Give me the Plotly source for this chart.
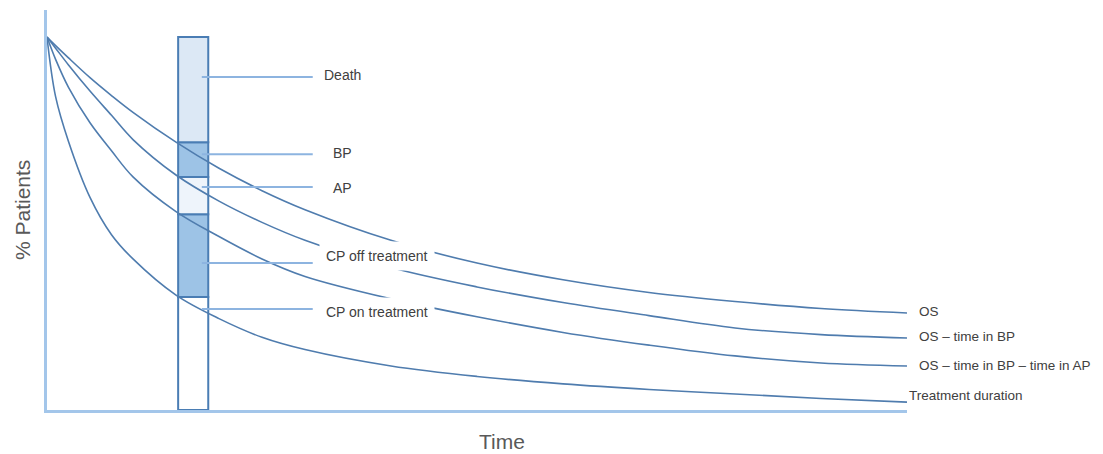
import plotly.graph_objects as go

# ---- data ----
time_points = [0, 1, 2.5, 5, 7.5, 10, 15, 20, 25, 30, 40, 50, 60, 70, 80, 90, 100]
os_curve = [100, 97.7, 94.4, 89.1, 84.3, 79.8, 71.8, 64.8, 58.8, 53.7, 45.5, 39.4, 34.9, 31.5, 29.1, 27.2, 26.0]
os_minus_bp = [100, 97, 92.5, 85.5, 79, 72.5, 63, 56, 50.3, 45.5, 38.2, 33.0, 28.8, 25.3, 22.0, 20.2, 19.3]
os_minus_bp_ap = [100, 94, 86.5, 77, 69.5, 62.5, 53.2, 46.5, 40.5, 35.8, 29.8, 25.0, 20.8, 17.4, 14.5, 12.6, 11.8]
treatment_duration = [100, 84, 72, 57, 47, 40.5, 30.8, 24.5, 19.5, 16.2, 11.8, 9.0, 7.0, 5.5, 4.3, 3.1, 2.1]

curve_names = ["OS", "OS – time in BP", "OS – time in BP – time in AP", "Treatment duration"]
curve_label_y = [26.3, 19.8, 11.8, 3.8]

bar_time = 17.0
segment_names = ["CP on treatment", "CP off treatment", "AP", "BP", "Death"]
segment_bottoms = [0, 30.3, 52.5, 62.5, 71.8]
segment_tops = [30.3, 52.5, 62.5, 71.8, 100]
segment_colors = ["#ffffff", "#9dc3e6", "#eef4fb", "#9dc3e6", "#dce8f5"]

callout_line_y = [27.1, 39.4, 59.8, 68.6, 89.3]
callout_label_y = [26.3, 41.2, 59.5, 68.9, 89.8]

fig = go.Figure()

# stacked time bar
for name, b, t, c in zip(segment_names, segment_bottoms, segment_tops, segment_colors):
    fig.add_trace(go.Bar(
        x=[bar_time], y=[t - b], base=[b], width=3.5,
        marker=dict(color=c, line=dict(color="#4a7db4", width=2)),
        showlegend=False, hoverinfo="skip"))

curve_color = "#4f7cae"
for name, vals in zip(curve_names, [os_curve, os_minus_bp, os_minus_bp_ap, treatment_duration]):
    fig.add_trace(go.Scatter(
        x=time_points, y=vals, mode="lines", name=name,
        line=dict(color=curve_color, width=1.6, shape="spline", smoothing=1.0),
        showlegend=False, hoverinfo="skip"))

# callout leader lines
for ly in callout_line_y:
    fig.add_trace(go.Scatter(
        x=[18.0, 30.9], y=[ly, ly], mode="lines",
        line=dict(color="#8db4e0", width=2),
        showlegend=False, hoverinfo="skip"))

label_font = dict(family="Liberation Sans, Arial, sans-serif", size=14, color="#404040")
end_font = dict(family="Liberation Sans, Arial, sans-serif", size=13.5, color="#404040")
annotations = []
for name, ly in zip(segment_names, callout_label_y):
    big = name.startswith("CP")
    annotations.append(dict(
        x=38.4 if big else 34.4, y=ly, xref="x", yref="y",
        text=name, showarrow=False, xanchor="center", yanchor="middle",
        font=label_font, bgcolor="white", borderpad=6 if big else 1))

# end-of-curve labels (paper x so they can sit right of the axis range)
for name, ly in zip(curve_names, curve_label_y):
    annotations.append(dict(
        x=1.0 if name == "Treatment duration" else 1.012, y=ly, xref="paper", yref="y",
        text=name, showarrow=False, xanchor="left", yanchor="middle",
        font=end_font))

title_font = dict(family="Liberation Sans, Arial, sans-serif", size=21, color="#595959")
annotations.append(dict(x=0.529, y=-0.078, xref="paper", yref="paper", text="Time",
                        showarrow=False, xanchor="center", yanchor="middle", font=title_font))
annotations.append(dict(x=-0.029, y=0.5, xref="paper", yref="paper", text="% Patients",
                        textangle=-90, showarrow=False, xanchor="center", yanchor="middle",
                        font=title_font))

fig.update_layout(
    width=1095, height=446,
    margin=dict(l=39, r=196, t=2, b=44),
    paper_bgcolor="white", plot_bgcolor="white",
    barmode="overlay",
    annotations=annotations,
    xaxis=dict(range=[0, 100], showgrid=False, zeroline=False, showticklabels=False,
               ticks="", showline=True, linecolor="#a3c6ea", linewidth=2.5),
    yaxis=dict(range=[0, 107.24], showgrid=False, zeroline=False, showticklabels=False,
               ticks="", showline=True, linecolor="#a3c6ea", linewidth=2.5),
)

fig.write_html("out.html", config={"displayModeBar": False})
